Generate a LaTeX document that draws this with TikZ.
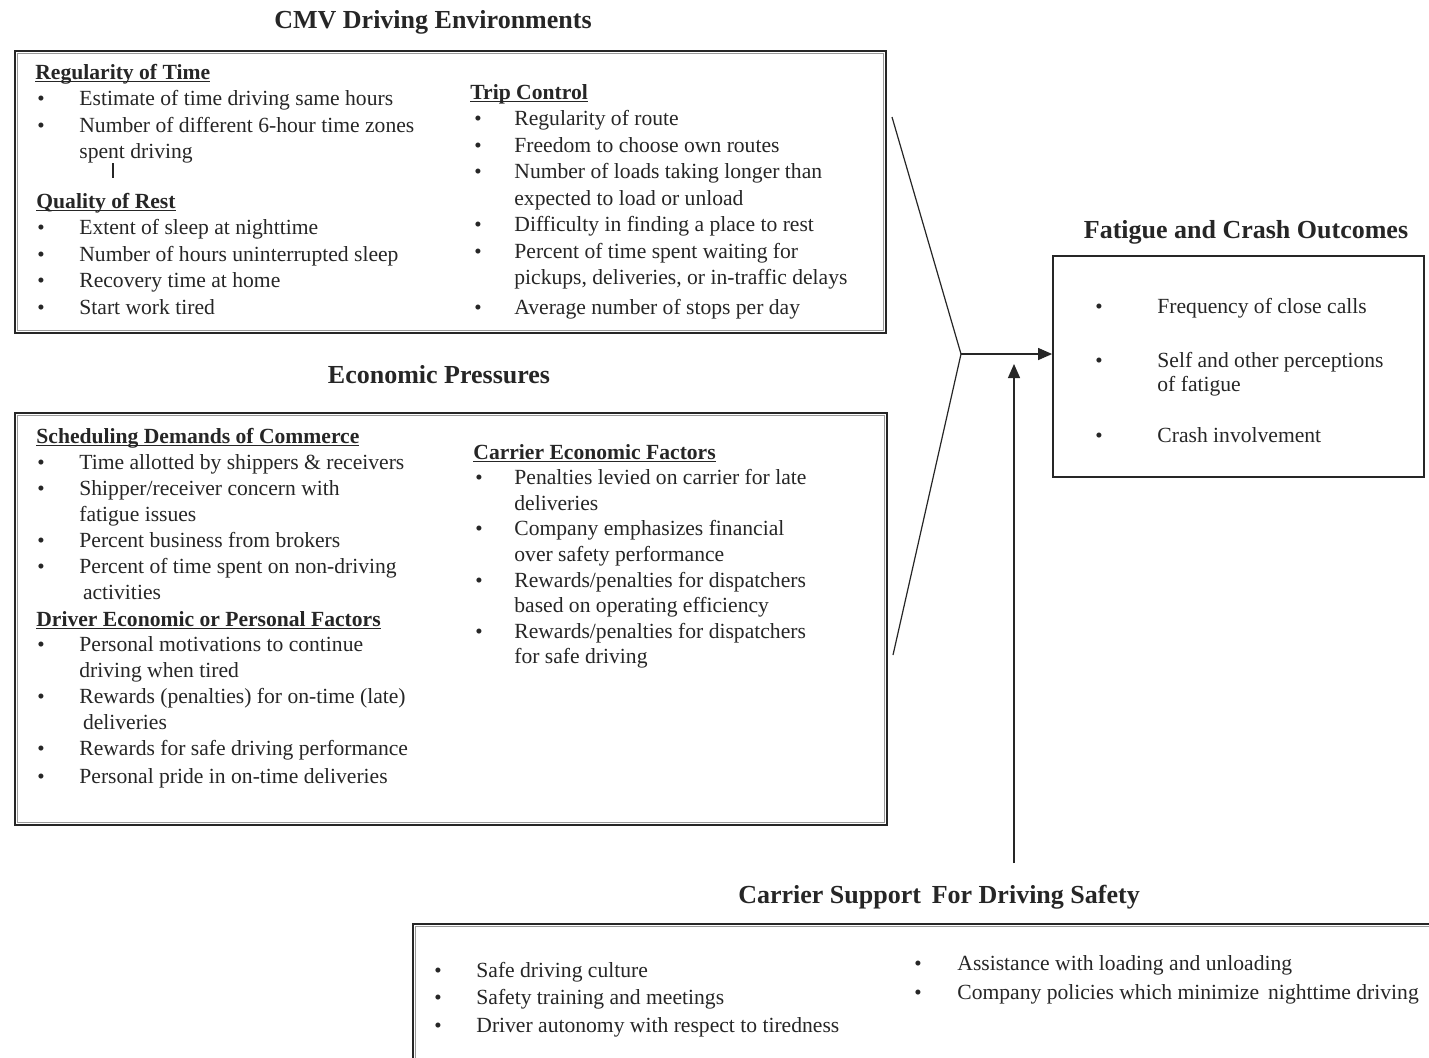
\documentclass[tikz,border=0pt]{standalone}
\usepackage{fontspec}
\setmainfont{Liberation Serif}
\usetikzlibrary{arrows.meta,fit,calc}

% list helpers: bullet offset and text offset are set per block
\newlength\bulx
\newlength\txtx
\newcommand\blt{{\fontsize{10.5}{10.5}\selectfont\textbullet}}
\newcommand\itm[1]{\leavevmode\makebox[\txtx][l]{\hspace*{\bulx}\blt}#1\par}
\newcommand\cnt[1]{\leavevmode\hspace*{\txtx}#1\par}
\newcommand\hd[1]{\leavevmode\setbox0\hbox{\textbf{#1}}\rlap{\rule[-1.7pt]{\wd0}{0.55pt}}\box0\par}
% #1 width, #2 baselineskip, #3 bullet offset, #4 text offset, #5 lines
\newcommand\lst[5]{\parbox[t]{#1}{\fontsize{10.8}{#2}\selectfont
  \setlength\parindent{0pt}\setlength\parskip{0pt}%
  \setlength\bulx{#3}\setlength\txtx{#4}#5}}

\begin{document}
\begin{tikzpicture}[x=0.5pt,y=-0.5pt,
  box/.style={draw=black!85, line width=0.9pt, inner sep=0pt},
  inset/.style={draw=black!40, line width=0.35pt},
  ttl/.style={font=\fontsize{13}{15}\selectfont\bfseries, anchor=base, inner sep=0pt, text=black!85},
  txt/.style={anchor=base west, inner sep=0pt, text=black!85},
  link/.style={draw=black!85, line width=0.6pt},
  arr/.style={link, -{Triangle[length=7pt,width=6pt]}}]

\clip (0,0) rectangle (1429,1057);
\fill[white] (0,0) rectangle (1429,1057);

% ---- boxes ----
\node[box, fit={(15,51)(886,333)}] (env) {};
\node[box, fit={(15,413)(887,825)}] (eco) {};
\node[box, fit={(1053,256)(1424,477)}] (out) {};
\node[box, fit={(413,924)(1450,1080)}] (sup) {};
\foreach \b in {env,eco,sup}
  \draw[inset] ([shift={(1.6pt,-1.6pt)}]\b.north west) rectangle ([shift={(-1.6pt,1.6pt)}]\b.south east);

% ---- titles ----
\node[ttl] (envtitle) at (433,28) {CMV Driving Environments};
\node[ttl] (ecotitle) at (439,383) {Economic Pressures};
\node[ttl] (outtitle) at (1246,238) {Fatigue and Crash Outcomes};
\node[ttl] (suptitle) at (939,903) {Carrier Support\, For Driving Safety};

% ---- CMV driving environments ----
\node[txt] (regtime) at (35,79) {\lst{220pt}{13.25pt}{1pt}{22pt}{%
  \hd{Regularity of Time}
  \itm{Estimate of time driving same hours}
  \itm{Number of different 6-hour time zones}
  \cnt{spent driving}}};
\draw[line width=1pt, draw=black!85] (113,163) -- (113,178);
\node[txt] (rest) at (36,208) {\lst{220pt}{13.25pt}{0.5pt}{21.5pt}{%
  \hd{Quality of Rest}
  \itm{Extent of sleep at nighttime}
  \itm{Number of hours uninterrupted sleep}
  \itm{Recovery time at home}
  \itm{Start work tired}}};
\node[txt] (trip) at (470,99) {\lst{220pt}{13.25pt}{2pt}{22pt}{%
  \hd{Trip Control}
  \itm{Regularity of route}
  \itm{Freedom to choose own routes}
  \itm{Number of loads taking longer than}
  \cnt{expected to load or unload}
  \itm{Difficulty in finding a place to rest}
  \itm{Percent of time spent waiting for}
  \cnt{pickups, deliveries, or in-traffic delays}
  \vspace{1.7pt}
  \itm{Average number of stops per day}}};

% ---- economic pressures ----
\node[txt] (sched) at (36,443) {\lst{220pt}{13pt}{0.5pt}{21.5pt}{%
  \hd{Scheduling Demands of Commerce}
  \itm{Time allotted by shippers \& receivers}
  \itm{Shipper/receiver concern with}
  \cnt{fatigue issues}
  \itm{Percent business from brokers}
  \itm{Percent of time spent on non-driving}
  \cnt{\,activities}}};
\node[txt] (driver) at (36,626) {\lst{220pt}{12.9pt}{0.5pt}{21.5pt}{%
  \hd{Driver Economic or Personal Factors}
  \itm{Personal motivations to continue}
  \cnt{driving when tired}
  \itm{Rewards (penalties) for on-time (late)}
  \cnt{\,deliveries}
  \itm{Rewards for safe driving performance}
  \vspace{1.5pt}
  \itm{Personal pride in on-time deliveries}}};
\node[txt] (carrier) at (473,459) {\lst{220pt}{12.8pt}{1pt}{20.5pt}{%
  \hd{Carrier Economic Factors}
  \itm{Penalties levied on carrier for late}
  \cnt{deliveries}
  \itm{Company emphasizes financial}
  \cnt{over safety performance}
  \itm{Rewards/penalties for dispatchers}
  \cnt{based on operating efficiency}
  \itm{Rewards/penalties for dispatchers}
  \cnt{for safe driving}}};

% ---- outcomes ----
\node[txt] (outlist) at (1095,313) {\lst{180pt}{12pt}{0pt}{31pt}{%
  \itm{Frequency of close calls}
  \vspace{15pt}
  \itm{Self and other perceptions}
  \cnt{of fatigue}
  \vspace{13.5pt}
  \itm{Crash involvement}}};

% ---- carrier support ----
\node[txt] (suplist) at (434,977) {\lst{230pt}{13.75pt}{0pt}{21pt}{%
  \itm{Safe driving culture}
  \itm{Safety training and meetings}
  \itm{Driver autonomy with respect to tiredness}}};
\node[txt] (suplist2) at (914,970) {\lst{260pt}{14.5pt}{0pt}{21.5pt}{%
  \itm{Assistance with loading and unloading}
  \itm{Company policies which minimize\, nighttime driving}}};

% ---- connectors ----
\coordinate (envtap) at (892,117);
\coordinate (ecotap) at (893,655);
\coordinate (hub) at (961,354);
\coordinate (suptap) at (1014,863);
\coordinate (suphead) at (1014,364);
\draw[link] (envtap) -- (hub) -- (ecotap);
\draw[arr] (hub) -- (out.west |- hub);
\draw[arr] (suptap) -- (suphead);
\end{tikzpicture}
\end{document}
